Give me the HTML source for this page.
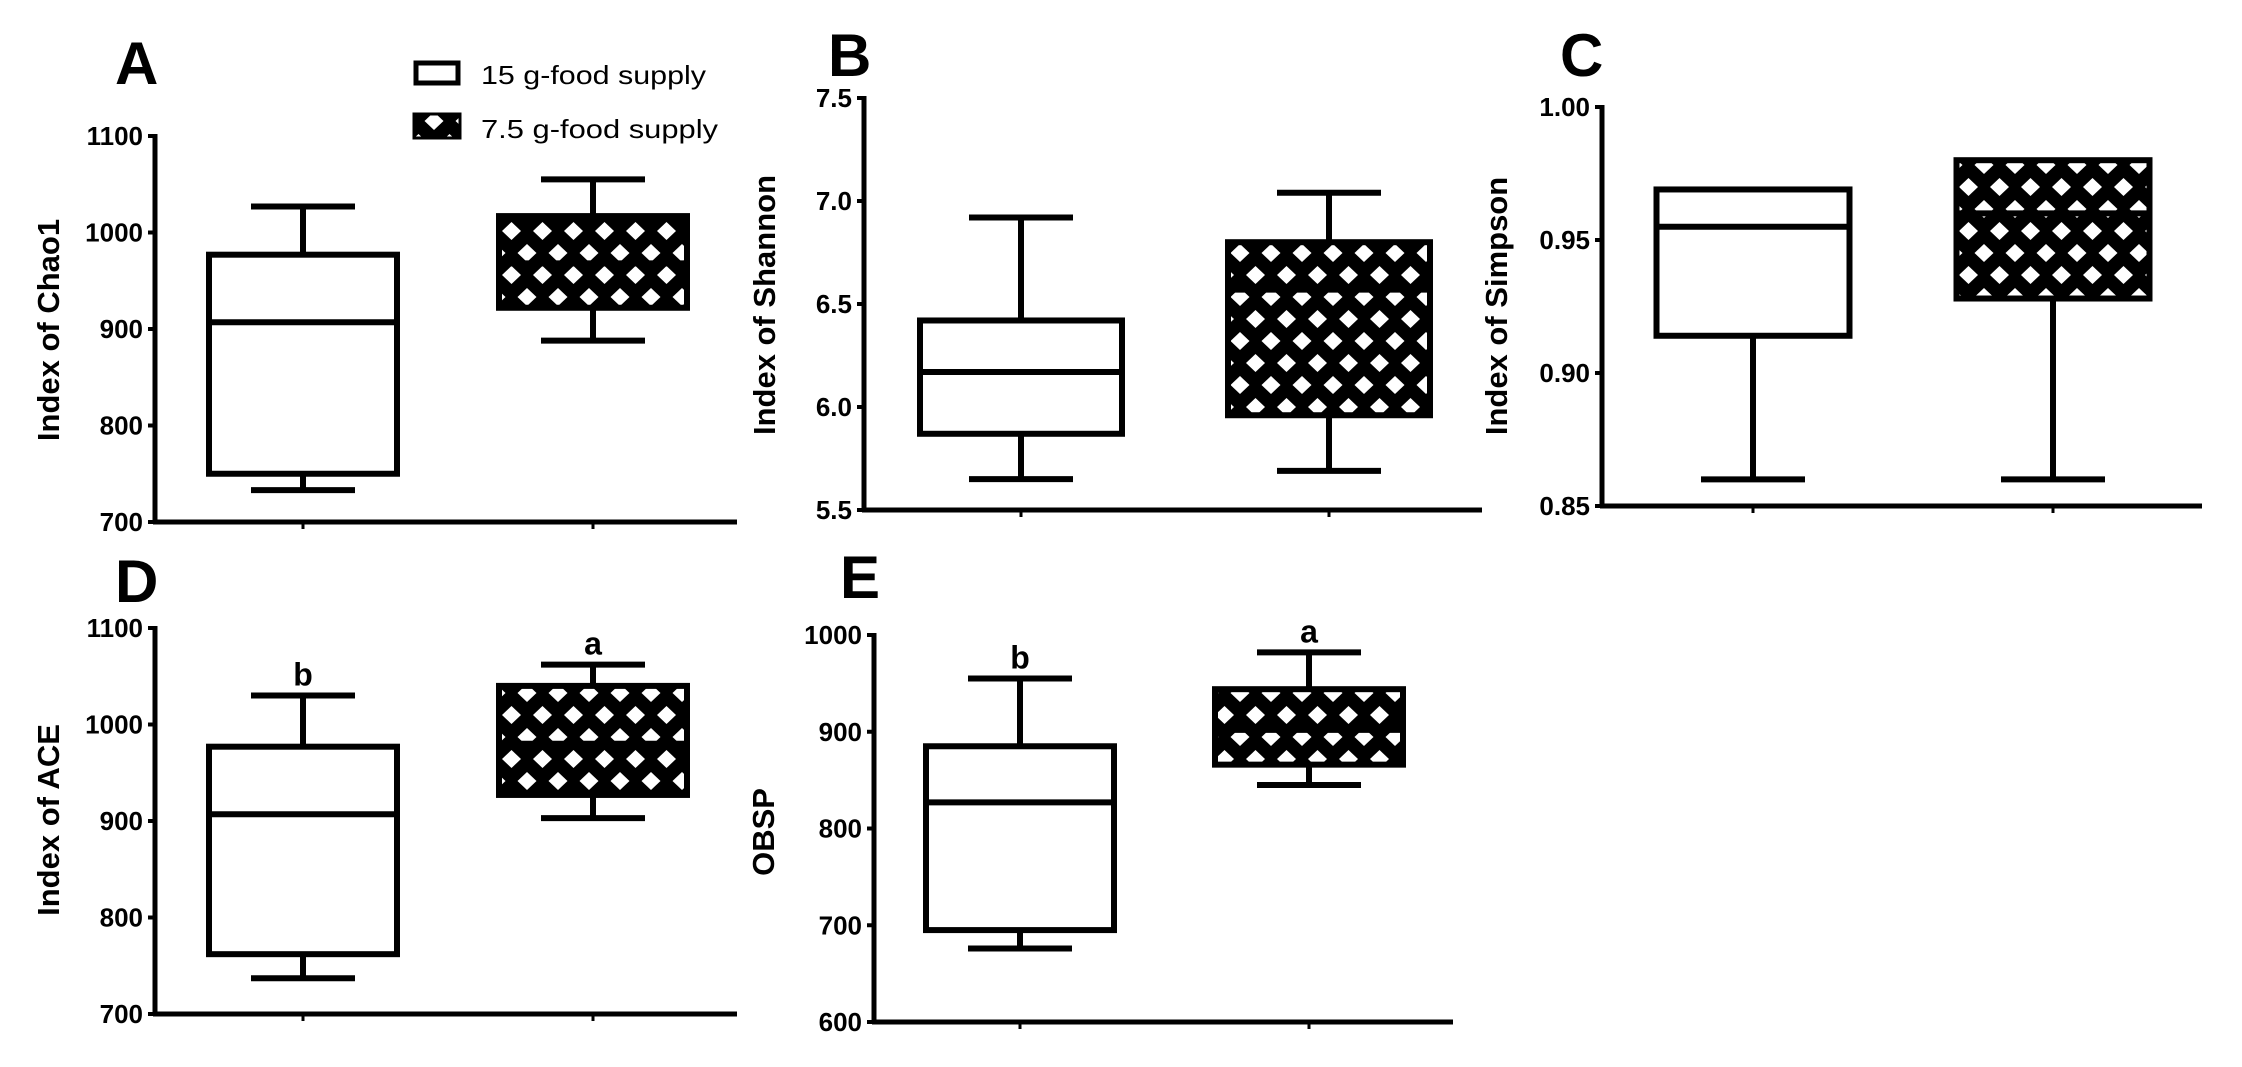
<!DOCTYPE html>
<html><head><meta charset="utf-8"><style>
html,body{margin:0;padding:0;background:#fff;}
svg{display:block;}
text{font-family:"Liberation Sans",Arial,sans-serif;fill:#000;}
</style></head><body>
<svg id="fig" width="2242" height="1067" viewBox="0 0 2242 1067" xmlns="http://www.w3.org/2000/svg">
<defs>
<pattern id="hatch" patternUnits="userSpaceOnUse" width="31" height="44">
<rect width="31" height="44" fill="#000"/>
<polygon points="15.5,2 25,11 15.5,20 6,11" fill="#fff"/>
<polygon points="0,24 9.5,33 0,42 -9.5,33" fill="#fff"/>
<polygon points="31,24 40.5,33 31,42 21.5,33" fill="#fff"/>
</pattern>
</defs>
<g id="legend">
<rect x="416" y="63" width="42" height="20" fill="#fff" stroke="#000" stroke-width="5"/>
<text x="481" y="84" font-size="26" textLength="225" lengthAdjust="spacingAndGlyphs">15 g-food supply</text>
<rect x="414" y="114" width="46" height="24" fill="url(#hatch)" stroke="#000" stroke-width="3"/>
<text x="481" y="138" font-size="26" textLength="237" lengthAdjust="spacingAndGlyphs">7.5 g-food supply</text>
</g>
</svg>
<script>
const categories = ["15 g-food supply", "7.5 g-food supply"];
// Panel A: Chao1
const chaoLow = [733, 888];
const chaoQ1 = [750, 922];
const chaoMed = [907, 968];
const chaoQ3 = [977, 1017];
const chaoHigh = [1027, 1055];
const chaoTicks = [700, 800, 900, 1000, 1100];
// Panel B: Shannon
const shannonLow = [5.65, 5.69];
const shannonQ1 = [5.87, 5.96];
const shannonMed = [6.17, 6.57];
const shannonQ3 = [6.42, 6.80];
const shannonHigh = [6.92, 7.04];
const shannonTicks = ["5.5", "6.0", "6.5", "7.0", "7.5"];
// Panel C: Simpson
const simpsonLow = [0.860, 0.860];
const simpsonQ1 = [0.914, 0.928];
const simpsonMed = [0.955, 0.960];
const simpsonQ3 = [0.969, 0.980];
const simpsonHigh = [0.969, 0.980];
const simpsonTicks = ["0.85", "0.90", "0.95", "1.00"];
// Panel D: ACE
const aceLow = [737, 903];
const aceQ1 = [762, 927];
const aceMed = [907, 980];
const aceQ3 = [977, 1040];
const aceHigh = [1030, 1062];
const aceTicks = [700, 800, 900, 1000, 1100];
const aceLetters = ["b", "a"];
// Panel E: OBSP
const obspLow = [676, 845];
const obspQ1 = [695, 866];
const obspMed = [827, 902];
const obspQ3 = [885, 944];
const obspHigh = [955, 982];
const obspTicks = [600, 700, 800, 900, 1000];
const obspLetters = ["b", "a"];

const NS = "http://www.w3.org/2000/svg";
const svg = document.getElementById("fig");
function mk(tag, attrs, parent) {
  const e = document.createElementNS(NS, tag);
  for (const k in attrs) e.setAttribute(k, attrs[k]);
  parent.appendChild(e);
  return e;
}

function panel(p) {
  const g = mk("g", {}, svg);
  
  
  const ticksNum = p.ticks.map(Number);
  const dMin = ticksNum[0], dMax = ticksNum[ticksNum.length - 1];
  const y = v => p.yBot - (v - dMin) / (dMax - dMin) * (p.yBot - p.yTop);
  const xs = [p.c1, p.c2];

  const lt = mk("text", {x: p.lx, y: p.ly, "font-size": 60, "font-weight": "bold"}, g);
  
  
  lt.textContent = p.id;

  const ax = mk("line", {x1: p.ax, y1: p.yTop - 2, x2: p.ax, y2: p.yBot + 2, stroke: "#000", "stroke-width": 5}, g);
  
  
  const xa = mk("line", {x1: p.ax - 2, y1: p.yBot, x2: p.xEnd, y2: p.yBot, stroke: "#000", "stroke-width": 5}, g);
  
  

  p.ticks.forEach((t, i) => {
    const ty = y(ticksNum[i]);
    const tm = mk("line", {x1: p.ax - 7, y1: ty, x2: p.ax, y2: ty, stroke: "#000", "stroke-width": 4}, g);
    
    
    const tl = mk("text", {x: p.ax - 12, y: ty + 9, "text-anchor": "end", "font-size": 26, "font-weight": "bold"}, g);
    
    
    tl.textContent = String(t);
  });
  xs.forEach(cx => {
    const xt = mk("line", {x1: cx, y1: p.yBot, x2: cx, y2: p.yBot + 7, stroke: "#000", "stroke-width": 3}, g);
    
    
  });

  const yt = mk("text", {"text-anchor": "middle", "font-size": 31, "font-weight": "bold", transform: `translate(${p.tx},${p.ty}) rotate(-90) translate(0,11)`}, g);
  
  
  yt.textContent = p.title;

  const capW = 104, bw = p.bw;
  for (let i = 0; i < 2; i++) {
    const cx = xs[i];
    const bg = mk("g", {}, g);
    
    
    const w1 = mk("line", {x1: cx, y1: y(p.hi[i]), x2: cx, y2: y(p.q3[i]), stroke: "#000", "stroke-width": 6}, bg);
    
    
    const w2 = mk("line", {x1: cx, y1: y(p.q1[i]), x2: cx, y2: y(p.lo[i]), stroke: "#000", "stroke-width": 6}, bg);
    
    
    if (p.hi[i] !== p.q3[i]) {
      const c1 = mk("line", {x1: cx - capW / 2, y1: y(p.hi[i]), x2: cx + capW / 2, y2: y(p.hi[i]), stroke: "#000", "stroke-width": 6}, bg);
      
      
    }
    const c2 = mk("line", {x1: cx - capW / 2, y1: y(p.lo[i]), x2: cx + capW / 2, y2: y(p.lo[i]), stroke: "#000", "stroke-width": 6}, bg);
    
    
    const r = mk("rect", {x: cx - bw / 2, y: y(p.q3[i]), width: bw, height: y(p.q1[i]) - y(p.q3[i]), fill: i === 0 ? "#fff" : "url(#hatch)", stroke: "#000", "stroke-width": 6}, bg);
    
    
    const m = mk("line", {x1: cx - bw / 2, y1: y(p.med[i]), x2: cx + bw / 2, y2: y(p.med[i]), stroke: "#000", "stroke-width": 6}, bg);
    
    
    if (p.letters) {
      const lb = mk("text", {x: cx, y: y(p.hi[i]) - 10, "text-anchor": "middle", "font-size": 32, "font-weight": "bold"}, bg);
      
      
      lb.textContent = p.letters[i];
    }
  }
}

panel({id: "A", title: "Index of Chao1", ticks: chaoTicks, lo: chaoLow, q1: chaoQ1, med: chaoMed, q3: chaoQ3, hi: chaoHigh,
  ax: 155, yTop: 136, yBot: 522, xEnd: 737, c1: 303, c2: 593, bw: 188, lx: 115, ly: 84, tx: 48, ty: 330});
panel({id: "B", title: "Index of Shannon", ticks: shannonTicks, lo: shannonLow, q1: shannonQ1, med: shannonMed, q3: shannonQ3, hi: shannonHigh,
  ax: 864, yTop: 98, yBot: 510, xEnd: 1482, c1: 1021, c2: 1329, bw: 202, lx: 828, ly: 76, tx: 764, ty: 305});
panel({id: "C", title: "Index of Simpson", ticks: simpsonTicks, lo: simpsonLow, q1: simpsonQ1, med: simpsonMed, q3: simpsonQ3, hi: simpsonHigh,
  ax: 1602, yTop: 107, yBot: 506, xEnd: 2202, c1: 1753, c2: 2053, bw: 193, lx: 1560, ly: 76, tx: 1496, ty: 306});
panel({id: "D", title: "Index of ACE", ticks: aceTicks, lo: aceLow, q1: aceQ1, med: aceMed, q3: aceQ3, hi: aceHigh, letters: aceLetters,
  ax: 155, yTop: 628, yBot: 1014, xEnd: 737, c1: 303, c2: 593, bw: 188, lx: 115, ly: 602, tx: 48, ty: 820});
panel({id: "E", title: "OBSP", ticks: obspTicks, lo: obspLow, q1: obspQ1, med: obspMed, q3: obspQ3, hi: obspHigh, letters: obspLetters,
  ax: 874, yTop: 635, yBot: 1022, xEnd: 1453, c1: 1020, c2: 1309, bw: 188, lx: 840, ly: 598, tx: 763, ty: 832});
</script>
</body></html>
